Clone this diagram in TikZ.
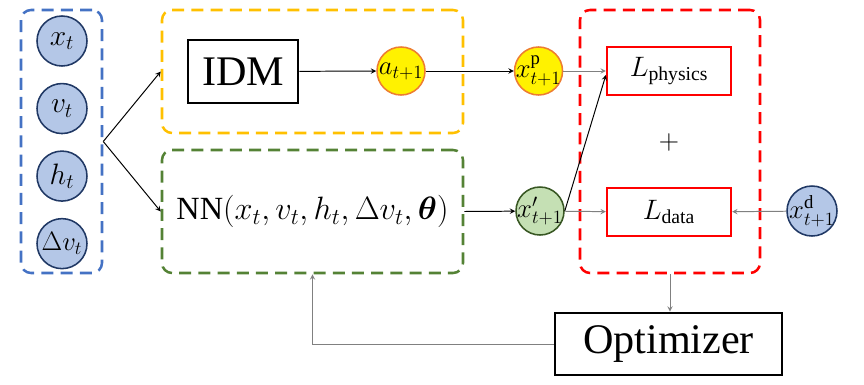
\RequirePackage{fix-cm}
\documentclass[tikz,border=0pt]{standalone}
\usepackage{amsmath,amssymb}
\usepackage{fontspec}
\setmainfont{Liberation Serif}
\usepackage{xcolor}
\usepackage{tikz}
\usetikzlibrary{arrows,positioning,fit}

\definecolor{groupblue}{HTML}{4472C4}
\definecolor{groupyellow}{HTML}{FFC000}
\definecolor{groupgreen}{HTML}{548235}
\definecolor{groupred}{HTML}{FF0000}
\definecolor{inblue}{HTML}{B4C7E7}
\definecolor{innavy}{HTML}{203864}
\definecolor{phyorange}{HTML}{ED7D31}
\definecolor{nnfill}{HTML}{C5E0B4}
\definecolor{nnborder}{HTML}{385723}

\begin{document}
\begin{tikzpicture}[
    group/.style={rectangle, draw, line width=1.8pt, rounded corners=0.25cm, dash pattern=on 0.3cm off 0.18cm},
    incirc/.style={circle, draw=innavy, fill=inblue, line width=1.1pt, minimum size=1.25cm, inner sep=-6pt, font=\fontsize{21}{24}\selectfont},
    phycirc/.style={circle, draw=phyorange, fill=yellow, line width=1.1pt, minimum size=1.2cm, inner sep=-6pt, font=\fontsize{19}{22}\selectfont},
    nncirc/.style={circle, draw=nnborder, fill=nnfill, line width=1.1pt, minimum size=1.2cm, inner sep=-6pt, font=\fontsize{19}{22}\selectfont},
    blockbox/.style={rectangle, draw, line width=1.9pt, align=center, font=\fontsize{30}{34}\selectfont},
    lossbox/.style={rectangle, draw=groupred, line width=1.6pt, minimum width=3.1cm, minimum height=1.2cm, font=\fontsize{20}{24}\selectfont},
    arrow/.style={->, >=stealth, line width=0.7pt}
]
\useasboundingbox (0,0) rectangle (21.6,9.6);

% Inputs
\node[group, draw=groupblue, minimum width=2.025cm, minimum height=6.575cm] (inputs) at (1.5375,6.0625) {};
\node[incirc] (xt) at (1.55,8.575) {$x_t$};
\node[incirc, below=0.4cm of xt] (vt) {$v_t$};
\node[incirc, below=0.4cm of vt] (ht) {$h_t$};
\node[incirc, below=0.4cm of ht, font=\fontsize{19}{22}\selectfont] (dvt) {$\Delta v_t$};

% Physics branch
\node[group, draw=groupyellow, minimum width=7.525cm, minimum height=3.075cm] (physgroup) at (7.8125,7.8125) {};
\node[blockbox, minimum width=2.75cm, minimum height=1.575cm] (idm) at (6.075,7.8125) {IDM};
\node[phycirc] (anext) at (10.025,7.825) {$a_{t+1}$};
\node[phycirc, right=2.2cm of anext] (xphys) {$x_{t+1}^{\mathrm{p}}$};

% NN branch
\node[group, draw=groupgreen, minimum width=7.525cm, minimum height=3.075cm] (nngroup) at (7.8125,4.3125) {};
\node[font=\fontsize{23}{27}\selectfont] (nn) at (nngroup.center) {NN$(x_t, v_t, h_t, \Delta v_t, \boldsymbol{\theta})$};
\node[nncirc] (xnn) at (13.5,4.325) {$x_{t+1}'$};

% Loss
\node[group, draw=groupred, minimum width=4.5cm, minimum height=6.575cm] (lossgroup) at (16.75,6.0625) {};
\node[lossbox] (lphys) at (16.725,7.825) {$L_{\mathrm{physics}}$};
\node[lossbox, below=2.275cm of lphys] (ldata) {$L_{\mathrm{data}}$};
\node[font=\fontsize{20}{24}\selectfont] (plus) at (16.725,6.05) {$+$};
\node[incirc, font=\fontsize{19}{22}\selectfont] (xdata) at (20.3,4.325) {$x_{t+1}^{\mathrm{d}}$};

% Optimizer
\node[blockbox, minimum width=5.675cm, minimum height=1.55cm] (opt) at (16.7125,1.0) {Optimizer};

% Arrows
\draw[arrow] (inputs.east) -- (physgroup.west);
\draw[arrow] (inputs.east) -- (nngroup.west);
\draw[arrow] (idm) -- (anext);
\draw[arrow] (anext) -- (xphys);
\draw[arrow, gray] (xphys) -- (lphys);
\draw[arrow] (nngroup.east) -- (xnn);
\draw[arrow] (xnn.east) -- ([yshift=-0.1cm]lphys.west);
\draw[arrow, gray] (xnn) -- (ldata);
\draw[arrow, gray] (xdata) -- (ldata);
\draw[arrow, gray] (lossgroup.south) -- (lossgroup.south |- opt.north);
\draw[arrow, gray] (opt.west) -| (nngroup.south);

\end{tikzpicture}
\end{document}
